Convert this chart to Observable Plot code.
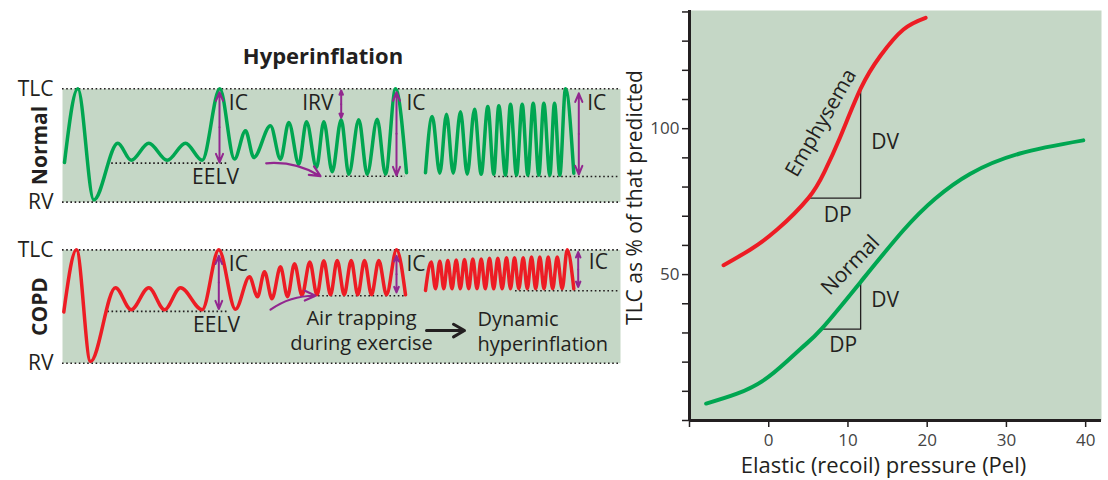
<!DOCTYPE html>
<html><head><meta charset="utf-8">
<script src="https://cdn.jsdelivr.net/npm/d3@7"></script>
<script src="https://cdn.jsdelivr.net/npm/@observablehq/plot@0.6"></script>
<style>
body{margin:0;background:#fff;font-family:"Open Sans",Lato,sans-serif;}
#wrap{position:relative;width:1108px;height:480px;overflow:hidden;}
#title{position:absolute;left:0;top:41px;width:646px;text-align:center;font-weight:bold;font-size:22px;line-height:28px;color:#231f20;}
#left{position:absolute;left:0;top:0;width:625px;}
#right{position:absolute;left:600px;top:0;width:508px;}
</style></head><body>
<div id="wrap"><div id="title">Hyperinflation</div><div id="left"></div><div id="right"></div></div>
<script>
const green = "#00a651", red = "#ed1c24", purple = "#92278f", ink = "#231f20", bg = "#c5d7c6";
const font = "'Open Sans', Lato, sans-serif";

// ---------- Left panel: spirometry traces (time, volume 0=RV .. 100=TLC) ----------
const panels = ["Normal", "COPD"];
const volumeTicks = [0, 100];
const volumeTickLabels = ["RV", "TLC"];

const normalRest = [[64,35],[77.3,100],[93.3,2],[117.3,52],[130.7,37],[148.3,52],[166.7,37],[185,52],[201.7,37],[219.3,100],[234,38],[245,63],[253.3,39.4],[270,67.4],[280,37.9],[288.3,70.3],[298.3,33.5],[306,70.9],[316,30.6],[323.3,70.9],[331.7,26.8],[340.7,72.7],[348.3,24.7],[358.3,72.7],[366.7,24.7],[376.7,73.2],[385,24.7],[395,100],[406,26]];
const normalExercise = [[425,26],[431.7,75.6],[439.3,25.6],[446,77.6],[452.7,25.6],[460,79.7],[466.7,24.7],[474,82],[480.7,24.7],[487.3,84.4],[493.3,24.7],[498.3,85],[505,23.8],[510,86.4],[516,23.8],[521.7,86.4],[527.3,23.8],[532.7,87.3],[538.3,23.8],[543.3,87.3],[549.3,23.8],[554,87.3],[559.3,23.8],[565,100],[573.3,25.6]];
const copdRest = [[63.3,45.2],[76,100],[90,1.5],[115,66.6],[130.7,47.2],[148.3,66.6],[164,47.2],[180,66.6],[201.7,47.2],[218.3,100],[235,47.5],[249,76.3],[257,58.7],[264,80.7],[271.5,56.9],[280,85],[287,58.7],[294,87.7],[301.5,60],[309.3,89.2],[316.5,60.4],[323.3,90.3],[330,60.4],[336.7,90.6],[343.7,60.4],[350.7,90.6],[357.3,60.4],[364,90.6],[371,60.4],[378.3,90.6],[386,60.4],[396,100],[405,60.4]];
const copdExercise = [[425,64.2],[430.7,89.2],[435,65.7],[439.3,90],[443.3,65.7],[447.3,90.6],[451.5,65.7],[455.7,91],[459.8,65.7],[464,91.5],[468.2,65.7],[472.3,92],[476.5,65.7],[480.7,92],[484.8,65.7],[489,92.5],[493.2,65.7],[497.3,92.5],[501.7,65.7],[506,93],[510,65.7],[514,93],[518.3,65.7],[522.7,93],[526.8,65.7],[531,93.6],[535.2,65.7],[539.3,93.6],[543.5,65.7],[547.7,93.6],[552.2,65.7],[556.7,93.6],[561.7,65.7],[566.7,100],[573.3,65.7]];

// end-expiratory lung volume dotted lines: [panel, t1, t2, volume]
const eelvLines = [["Normal",107,228,34.4],["Normal",325,405,22.9],["Normal",494,620,22.7],
                   ["COPD",107.3,228.3,45.7],["COPD",318,405,59.5],["COPD",515,620,63.9]];
// double arrows: [panel, t, top volume, bottom volume]
const capacityArrows = [["Normal",219,97,35],["Normal",396,97,23.5],["Normal",578.3,96,24.4],["Normal",340.7,98.5,74.4],
                        ["COPD",218.3,94.7,47.8],["COPD",396,94.7,62.4],["COPD",577.7,98,67.2]];
// curved arrows: [panel, t1, v1, t2, v2]
const shiftArrows = [["Normal",265.7,34.3,320,22.9],["COPD",270,47.2,315,59.5]];
const causeArrow = [["COPD",426,28.8,464,28.8]];
// labels: [panel, text, t, volume, anchor]
const leftLabels = [["Normal","IC",228.3,87.3,"start"],["Normal","IC",406,87.3,"start"],["Normal","IC",586.7,87.6,"start"],
  ["Normal","IRV",333,87.3,"end"],["Normal","EELV",215,22,"middle"],
  ["COPD","IC",228.3,87.4,"start"],["COPD","IC",406,87.4,"start"],["COPD","IC",588.3,89,"start"],
  ["COPD","EELV",216,33.2,"middle"]];
const noteLabels = [["COPD","Air trapping\nduring exercise",361,30.1,"middle"],
  ["COPD","Dynamic\nhyperinflation",477,28.8,"start"]];

const waveRows = [];
function addWave(panel, seg, pts) { pts.forEach(([t, v]) => waveRows.push({panel, seg: panel + seg, t, v})); }
addWave("Normal", "rest", normalRest);
addWave("Normal", "ex", normalExercise);
addWave("COPD", "rest", copdRest);
addWave("COPD", "ex", copdExercise);

const eelvRows = eelvLines.map(([panel, t1, t2, v]) => ({panel, t1, t2, v}));
const capRows = capacityArrows.flatMap(([panel, t, top, bot]) => {
  const mid = (top + bot) / 2;
  return [{panel, t, v1: mid, v2: top}, {panel, t, v1: mid, v2: bot}];
});
const shiftRows = shiftArrows.map(([panel, t1, v1, t2, v2]) => ({panel, t1, v1, t2, v2}));
const causeRows = causeArrow.map(([panel, t1, v1, t2, v2]) => ({panel, t1, v1, t2, v2}));
const labelRows = leftLabels.map(([panel, text, t, v, anchor]) => ({panel, text, t, v, anchor}));
const noteRows = noteLabels.map(([panel, text, t, v, anchor]) => ({panel, text, t, v, anchor}));
const labelMark = anchor => Plot.text(labelRows.filter(d => d.anchor === anchor),
  {x: "t", y: "v", fy: "panel", text: "text", textAnchor: anchor, lineAnchor: "middle", fill: ink, fontSize: 21});
const noteMark = anchor => Plot.text(noteRows.filter(d => d.anchor === anchor),
  {x: "t", y: "v", fy: "panel", text: "text", textAnchor: anchor, lineAnchor: "middle", lineHeight: 1.25, fill: ink, fontSize: 20});

const left = Plot.plot({
  width: 625, height: 380,
  marginLeft: 62, marginRight: 5, marginTop: 88.3, marginBottom: 17.3,
  style: {background: "transparent", fontFamily: font, fontSize: "21px", color: ink, overflow: "visible"},
  x: {domain: [62, 620], axis: null},
  y: {domain: [0, 100], ticks: volumeTicks, tickFormat: d => volumeTickLabels[volumeTicks.indexOf(d)], tickSize: 0, tickPadding: 9, label: null},
  fy: {domain: panels, paddingInner: 0.296, paddingOuter: 0, axis: null, round: false},
  marks: [
    Plot.frame({fill: bg, stroke: null}),
    Plot.ruleY(volumeTicks, {stroke: ink, strokeWidth: 1.6, strokeDasharray: "1.6,2.6"}),
    Plot.ruleY(eelvRows, {y: "v", x1: "t1", x2: "t2", fy: "panel", stroke: ink, strokeWidth: 1.6, strokeDasharray: "1.6,2.6"}),
    Plot.line(waveRows.filter(d => d.panel === "Normal"), {x: "t", y: "v", z: "seg", fy: "panel", curve: "monotone-x", stroke: green, strokeWidth: 3.5}),
    Plot.line(waveRows.filter(d => d.panel === "COPD"), {x: "t", y: "v", z: "seg", fy: "panel", curve: "monotone-x", stroke: red, strokeWidth: 3.5}),
    Plot.arrow(capRows, {x1: "t", x2: "t", y1: "v1", y2: "v2", fy: "panel", stroke: purple, strokeWidth: 2, headLength: 7, headAngle: 45}),
    Plot.arrow(shiftRows, {x1: "t1", y1: "v1", x2: "t2", y2: "v2", fy: "panel", bend: 18, stroke: purple, strokeWidth: 2.2, headLength: 8, headAngle: 50}),
    Plot.arrow(causeRows, {x1: "t1", y1: "v1", x2: "t2", y2: "v2", fy: "panel", stroke: ink, strokeWidth: 3, headLength: 10, headAngle: 60}),
    labelMark("start"), labelMark("middle"), labelMark("end"),
    noteMark("start"), noteMark("middle"),
    Plot.text(panels, {fy: d => d, text: d => d, frameAnchor: "left", textAnchor: "middle", lineAnchor: "middle", dx: -22, rotate: -90, fontWeight: "bold", fontSize: 21, fill: ink})
  ]
});
document.getElementById("left").appendChild(left);

// ---------- Right panel: pressure-volume curves ----------
const pressureTicks = [-10, 0, 10, 20, 30, 40];
const volumePctTicks = [0, 10, 20, 30, 40, 50, 60, 70, 80, 90, 100, 110, 120, 130, 140];
const volumePctLabelled = [50, 100];
const emphysemaPel = [-5.7, -2.3, 1.1, 5.0, 7.0, 9.0, 11.6, 14.1, 17.0, 19.8];
const emphysemaTLC = [53.2, 58.6, 65.5, 76.2, 85.0, 97.0, 113.7, 125.0, 134.0, 138.0];
const normalPel = [-7.9, -4.0, 0, 4.0, 6.7, 11.6, 17.0, 21.0, 25.4, 31.7, 39.7];
const normalTLC = [5.8, 9.2, 15.0, 24.5, 31.5, 47.5, 65.2, 76.0, 84.5, 91.5, 96.0];
// compliance triangles: [curve, Pel, TLC]
const triangles = [["Emphysema",5.0,76.2],["Emphysema",11.6,76.2],["Emphysema",11.6,113.7],
                   ["Normal",6.7,31.3],["Normal",11.6,31.3],["Normal",11.6,47.5]];
// labels: [text, Pel, TLC, rotate]
const rightLabels = [["DV",14.7,95.4,0],["DP",8.7,70.3,0],["DV",14.7,41.2,0],["DP",9.4,25.8,0],
                     ["Emphysema",6.6,102,-60],["Normal",10.3,53.2,-46]];

const emphRows = emphysemaPel.map((p, i) => ({p, v: emphysemaTLC[i]}));
const normRows = normalPel.map((p, i) => ({p, v: normalTLC[i]}));
const triRows = triangles.map(([curve, p, v]) => ({curve, p, v}));
const rLabelRows = rightLabels.map(([text, p, v, r]) => ({text, p, v, r}));

const right = Plot.plot({
  width: 508, height: 480,
  marginLeft: 89, marginRight: 7, marginTop: 10, marginBottom: 60,
  style: {background: "transparent", fontFamily: font, fontSize: "21px", color: ink, overflow: "visible"},
  x: {domain: [-10, 42]},
  y: {domain: [0, 140.5]},
  marks: [
    Plot.frame({fill: bg, stroke: null}),
    Plot.axisX({ticks: pressureTicks, tickFormat: d => d < 0 ? "" : String(d), tickSize: 7, tickPadding: 6, fontSize: 17, fill: "#444", strokeWidth: 1.5, label: null}),
    Plot.axisY({ticks: volumePctTicks, tickFormat: d => volumePctLabelled.includes(d) ? String(d) : "", tickSize: 7, tickPadding: 3, fontSize: 17, fill: "#444", strokeWidth: 1.5, label: null}),
    Plot.ruleY([0], {stroke: ink, strokeWidth: 3}),
    Plot.ruleX([-10], {stroke: ink, strokeWidth: 3}),
    Plot.line(triRows, {x: "p", y: "v", z: "curve", stroke: ink, strokeWidth: 1.3}),
    Plot.line(emphRows, {x: "p", y: "v", curve: "natural", stroke: red, strokeWidth: 4}),
    Plot.line(normRows, {x: "p", y: "v", curve: "natural", stroke: green, strokeWidth: 4}),
    Plot.text(rLabelRows, {x: "p", y: "v", text: "text", rotate: "r", fill: ink, fontSize: 21}),
    Plot.text(["Elastic (recoil) pressure (Pel)"], {frameAnchor: "bottom", lineAnchor: "middle", dy: 45, dx: -12, fill: ink, fontSize: 22}),
    Plot.text(["TLC as % of that predicted"], {frameAnchor: "left", textAnchor: "middle", lineAnchor: "middle", dx: -54, dy: -18, rotate: -90, fill: ink, fontSize: 21})
  ]
});
document.getElementById("right").appendChild(right);
</script></body></html>
